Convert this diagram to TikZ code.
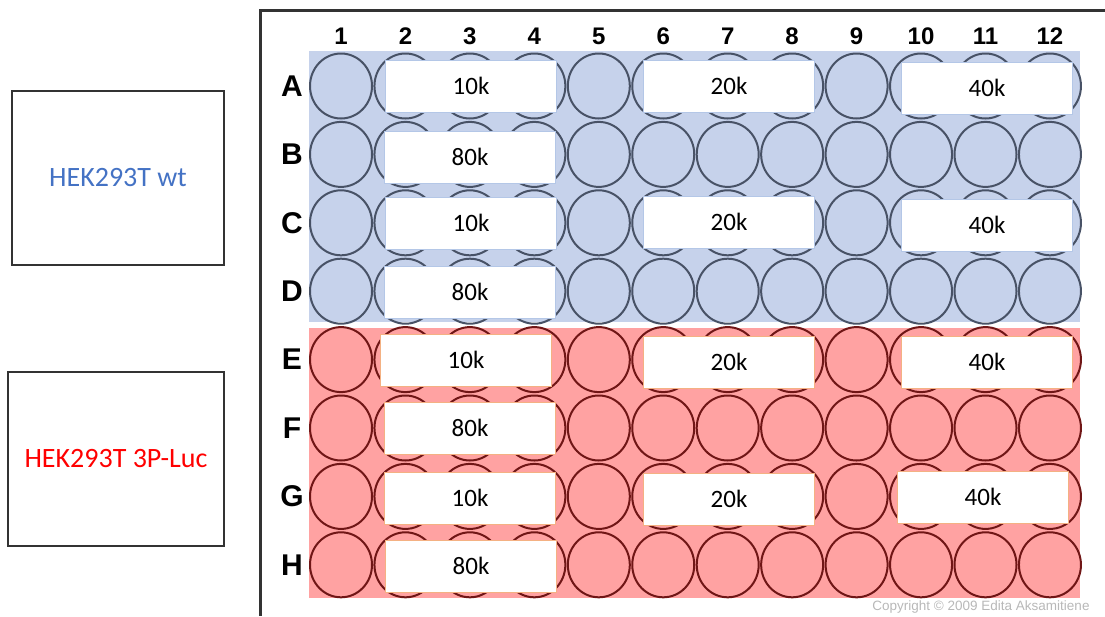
\documentclass[tikz,border=0pt]{standalone}
\usepackage{fontspec}
\setmainfont{Carlito}
\setsansfont{Liberation Sans}
\usetikzlibrary{positioning}

\definecolor{wtblue}{RGB}{198,210,235}
\definecolor{lucred}{RGB}{255,162,162}
\definecolor{wtring}{RGB}{72,82,102}
\definecolor{lucring}{RGB}{112,22,22}
\definecolor{wttext}{RGB}{68,114,196}
\definecolor{edgeblue}{RGB}{180,199,231}
\definecolor{edgeorange}{RGB}{244,177,131}

\begin{document}
\begin{tikzpicture}[x=1pt, y=-1pt,
  dens/.style={draw, fill=white, line width=0.8pt, minimum width=171pt, minimum height=52pt,
     inner sep=0pt, font=\fontsize{25}{29}\selectfont},
  legend/.style={draw=black!80, line width=1.3pt, inner sep=0pt, font=\fontsize{28}{32}\selectfont},
  lbl/.style={font=\sffamily\bfseries\fontsize{24}{28}\selectfont, inner sep=0pt}]
  \useasboundingbox (0,0) rectangle (1105,616);

  % cell lines
  \node[legend, minimum width=212pt, minimum height=174pt, text=wttext] (wt) at (118,178) {HEK293T wt};
  \node[legend, minimum width=216pt, minimum height=174pt, text=red] (luc) at (116,459) {HEK293T 3P-Luc};

  % plate
  \draw[line width=3pt, black!80] (1105,10) -- (260,10) -- (260,616);
  \fill[wtblue] (309,51) rectangle (1080,322);
  \fill[lucred] (309,328) rectangle (1080,598);
  \foreach \c in {1,...,12}
    \node[lbl] (col\c) at ({341+64.45*(\c-1)},36) {\c};
  \foreach \r [count=\i] in {A,B,C,D,E,F,G,H}
    \node[lbl, font=\sffamily\bfseries\fontsize{30}{33}\selectfont] (row\r) at (292,{86+68.4*(\i-1)}) {\r};
  \foreach \i in {1,...,8}
    \foreach \c in {1,...,12} {
      \ifnum\i<5 \def\ring{wtring}\else\def\ring{lucring}\fi
      \draw[\ring, line width=2pt] ({341+64.45*(\c-1)},{86+68.4*(\i-1)}) ellipse (31pt and 32.5pt);
    }

  % seeding densities
  \node[dens, draw=edgeblue] (a10) at (471,86) {10k};
  \node[dens, draw=edgeblue] (a20) at (729,86) {20k};
  \node[dens, draw=edgeblue] (a40) at (987,88) {40k};
  \node[dens, draw=edgeblue] (b80) at (470,157) {80k};
  \node[dens, draw=edgeblue] (c10) at (471,223) {10k};
  \node[dens, draw=edgeblue] (c20) at (729,222) {20k};
  \node[dens, draw=edgeblue] (c40) at (987,225) {40k};
  \node[dens, draw=edgeblue] (d80) at (470,292) {80k};
  \node[dens, draw=edgeorange] (e10) at (466,360) {10k};
  \node[dens, draw=edgeorange] (e20) at (729,362) {20k};
  \node[dens, draw=edgeorange] (e40) at (987,362) {40k};
  \node[dens, draw=edgeorange] (f80) at (470,428) {80k};
  \node[dens, draw=edgeorange] (g10) at (470,498) {10k};
  \node[dens, draw=edgeorange] (g20) at (729,499) {20k};
  \node[dens, draw=edgeorange] (g40) at (983,497) {40k};
  \node[dens, draw=edgeorange] (h80) at (471,566) {80k};

  \node[text=black!28, font=\sffamily\fontsize{13.5}{15}\selectfont, inner sep=0pt] (copy) at (981,607)
    {Copyright \textcopyright{} 2009 Edita Aksamitiene};
\end{tikzpicture}
\end{document}
